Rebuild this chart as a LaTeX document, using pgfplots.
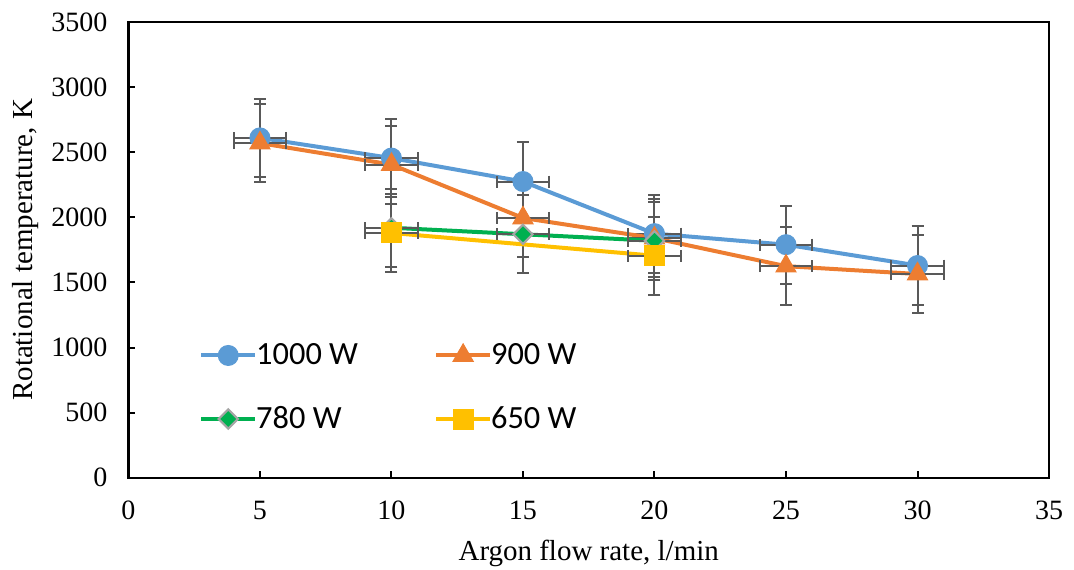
\documentclass[border=0pt]{standalone}
\usepackage{pgfplots}
\pgfplotsset{compat=1.18}
\usepackage{fontspec}
\setmainfont{Liberation Serif}
\newfontfamily\legendfont{Carlito}
\newfontfamily\tickfont{Liberation Serif}
\definecolor{cA}{HTML}{5B9BD5}
\definecolor{cB}{HTML}{ED7D31}
\definecolor{cC}{HTML}{00B050}
\definecolor{cD}{HTML}{FFC000}
\definecolor{eb}{HTML}{595959}
\definecolor{dg}{HTML}{A5A5A5}
\pgfplotstableread{
x y ex ey
5 2610 1 300
10 2455 1 300
15 2275 1 300
20 1875 1 300
25 1790 1 300
30 1630 1 300
}\tA
\pgfplotstableread{
x y ex ey
5 2570 1 300
10 2405 1 300
15 1995 1 300
20 1840 1 300
25 1625 1 300
30 1565 1 300
}\tB
\pgfplotstableread{
x y ex ey
10 1920 1 300
15 1870 1 300
20 1820 1 300
}\tC
\pgfplotstableread{
x y ex ey
10 1880 1 300
20 1705 1 300
}\tD
\begin{document}
\begin{tikzpicture}
\path[use as bounding box] (-64.25pt,-46pt) rectangle (473pt,239pt);
\begin{axis}[
  at={(0,0)}, anchor=south west,
  scale only axis, width=460.5pt, height=228pt,
  xmin=0, xmax=35, ymin=0, ymax=3500,
  xtick={0,5,10,15,20,25,30,35},
  xticklabels={0,5,10,15,20,25,30,35},
  ytick={0,500,1000,1500,2000,2500,3000,3500},
  yticklabels={0,500,1000,1500,2000,2500,3000,3500},
  tick pos=left, tick align=inside,
  major tick length=3.5pt,
  tick style={black, line width=1pt},
  axis line style={black, line width=1.2pt},
  ticklabel style={font=\tickfont\fontsize{14}{16}\selectfont},
  yticklabel style={xshift=-7pt},
  xticklabel style={yshift=-8pt},
  xlabel={Argon flow rate, l/min},
  ylabel={Rotational temperature, K},
  label style={font=\rmfamily\fontsize{14.5}{17}\selectfont},
  xlabel style={at={(axis description cs:0.5,-0.182)}, anchor=base},
  ylabel style={at={(axis description cs:-0.1037,0.5)}, anchor=base},
  legend columns=2,
  legend cell align=left,
  legend style={at={(rel axis cs:0.0765,0.30)}, anchor=north west, draw=none, fill=none,
    inner sep=0pt, row sep=17.5pt, font=\fontsize{16.2}{18}\selectfont,
    nodes={inner sep=1pt},
    /tikz/every odd column/.style={column sep=-1.5pt}},
  legend image code/.code={\draw[mark repeat=2,mark phase=2] plot coordinates {(0pt,0pt) (13.5pt,0pt) (27pt,0pt)};},
  every axis plot/.append style={line width=2pt},
  error bars/error bar style={line width=1pt, color=eb},
  error bars/error mark options={line width=1pt, color=eb, mark size=3pt, rotate=90},
]
\addplot[color=cA, mark=*, mark size=5pt, mark options={fill=cA, draw=cA, line width=0.5pt},
  error bars/.cd, x dir=both, x explicit, y dir=both, y explicit]
  table[x=x, y=y, x error=ex, y error=ey] {\tA};
\addlegendentry{\makebox[88pt][l]{\legendfont 1000 W}}
\addplot[color=cB, mark=triangle*, mark size=5.8pt, mark options={fill=cB, draw=cB, line width=0.5pt},
  error bars/.cd, x dir=both, x explicit, y dir=both, y explicit]
  table[x=x, y=y, x error=ex, y error=ey] {\tB};
\addlegendentry{\legendfont 900 W}
\addplot[color=cC, mark=square*, mark size=3.4pt, mark options={fill=cC, draw=dg, line width=1pt, rotate=45},
  error bars/.cd, x dir=both, x explicit, y dir=both, y explicit]
  table[x=x, y=y, x error=ex, y error=ey] {\tC};
\addlegendentry{\makebox[88pt][l]{\legendfont 780 W}}
\addplot[color=cD, mark=square*, mark size=5pt, mark options={fill=cD, draw=cD, line width=0.5pt},
  error bars/.cd, x dir=both, x explicit, y dir=both, y explicit]
  table[x=x, y=y, x error=ex, y error=ey] {\tD};
\addlegendentry{\legendfont 650 W}
\end{axis}
\end{tikzpicture}
\end{document}
